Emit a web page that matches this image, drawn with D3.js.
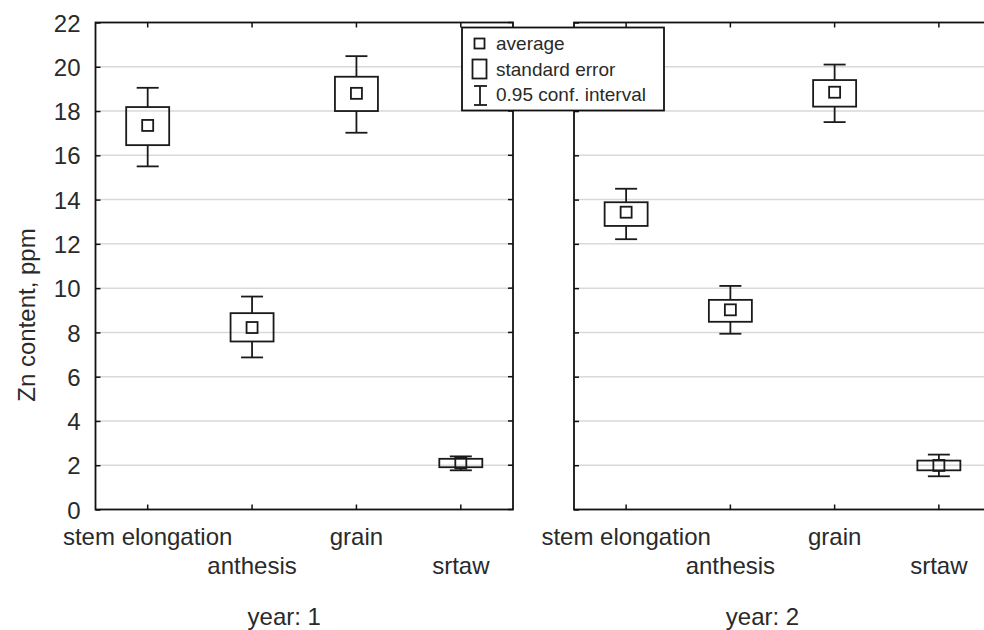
<!DOCTYPE html>
<meta charset="utf-8">
<style>
body { margin: 0; background: #fff; }
svg { font-family: "Liberation Sans", Arial, sans-serif; }
.grid line { stroke: #d9d9d9; stroke-width: 1.5px; }
.frame { fill: none; stroke: #111; stroke-width: 1.8px; }
.tick line { stroke: #111; stroke-width: 1.5px; }
.box rect, .box line { stroke: #1a1a1a; stroke-width: 1.8px; fill: none; }
text { fill: #2a2a2a; }
</style>
<div id="chart"></div>
<script src="https://d3js.org/d3.v7.min.js"></script>
<script>
  var categories = ["stem elongation", "anthesis", "grain", "srtaw"];
  var yearLabels = ["year: 1", "year: 2"];
  var yTicks = [0, 2, 4, 6, 8, 10, 12, 14, 16, 18, 20, 22];

  // year 1
  var mean1   = [17.35, 8.22, 18.8, 2.1];
  var seLow1  = [16.46, 7.59, 18.0, 1.91];
  var seHigh1 = [18.18, 8.87, 19.55, 2.29];
  var ciLow1  = [15.5, 6.87, 17.02, 1.77];
  var ciHigh1 = [19.05, 9.62, 20.48, 2.4];

  // year 2
  var mean2   = [13.43, 9.02, 18.85, 1.99];
  var seLow2  = [12.81, 8.48, 18.2, 1.77];
  var seHigh2 = [13.88, 9.47, 19.4, 2.21];
  var ciLow2  = [12.21, 7.94, 17.5, 1.5];
  var ciHigh2 = [14.49, 10.1, 20.1, 2.48];

  var legendItems = ["average", "standard error", "0.95 conf. interval"];

  var width = 984, height = 630;
  var plotTop = 22.5, plotBottom = 509.5;
  var panels = [
    { x0: 95.5, x1: 513, label: yearLabels[0],
      mean: mean1, seLow: seLow1, seHigh: seHigh1, ciLow: ciLow1, ciHigh: ciHigh1 },
    { x0: 574, x1: 991, label: yearLabels[1],
      mean: mean2, seLow: seLow2, seHigh: seHigh2, ciLow: ciLow2, ciHigh: ciHigh2 }
  ];

  var boxW = 43, meanW = 11, capW = 22;

  var svg = d3.select("#chart").append("svg")
    .attr("width", width)
    .attr("height", height);

  var y = d3.scaleLinear().domain([0, 22]).range([plotBottom, plotTop]);

  panels.forEach(function(p, pi) {
    var x = d3.scalePoint().domain(categories).range([p.x0, p.x1]).padding(0.5);

    // grid
    svg.append("g").attr("class", "grid")
      .selectAll("line")
      .data(yTicks.filter(function(t) { return t > 0 && t < 22; }))
      .enter().append("line")
      .attr("x1", p.x0).attr("x2", p.x1)
      .attr("y1", function(d) { return y(d); })
      .attr("y2", function(d) { return y(d); });

    // left axis ticks (inward)
    var ax = svg.append("g")
      .attr("transform", "translate(" + p.x0 + ",0)")
      .call(d3.axisLeft(y).tickValues(yTicks).tickSize(-5).tickPadding(15));
    ax.select(".domain").remove();
    ax.selectAll(".tick line").attr("stroke", "#111").attr("stroke-width", 1.5);
    ax.selectAll("text")
      .style("font-size", "24px")
      .style("font-family", "'Liberation Sans', Arial, sans-serif")
      .attr("fill", "#2a2a2a")
      .attr("dy", "0.36em");
    if (pi > 0) ax.selectAll("text").remove();

    // right side ticks (inward)
    svg.append("g").attr("class", "tick")
      .selectAll("line")
      .data(yTicks)
      .enter().append("line")
      .attr("x1", p.x1).attr("x2", p.x1 - 5)
      .attr("y1", function(d) { return y(d); })
      .attr("y2", function(d) { return y(d); });

    // top and bottom category ticks
    var ct = svg.append("g").attr("class", "tick");
    ct.selectAll("line.b")
      .data(categories).enter().append("line").attr("class", "b")
      .attr("x1", function(d) { return x(d); }).attr("x2", function(d) { return x(d); })
      .attr("y1", plotBottom).attr("y2", plotBottom - 5);
    ct.selectAll("line.t")
      .data(categories).enter().append("line").attr("class", "t")
      .attr("x1", function(d) { return x(d); }).attr("x2", function(d) { return x(d); })
      .attr("y1", plotTop).attr("y2", plotTop + 5);

    // frame
    svg.append("rect").attr("class", "frame")
      .attr("x", p.x0).attr("y", plotTop)
      .attr("width", p.x1 - p.x0).attr("height", plotBottom - plotTop);

    // category labels, staggered
    svg.append("g")
      .selectAll("text")
      .data(categories)
      .enter().append("text")
      .attr("x", function(d) { return x(d); })
      .attr("y", function(d, i) { return i % 2 === 0 ? 545 : 574; })
      .attr("text-anchor", "middle")
      .style("font-size", "24px")
      .text(function(d) { return d; });

    svg.append("text")
      .attr("x", (p.x0 + p.x1) / 2 - 20)
      .attr("y", 625)
      .attr("text-anchor", "middle")
      .style("font-size", "24px")
      .text(p.label);

    // boxes
    var box = svg.append("g").selectAll("g")
      .data(categories)
      .enter().append("g").attr("class", "box");

    box.append("line")
      .attr("x1", function(d) { return x(d); }).attr("x2", function(d) { return x(d); })
      .attr("y1", function(d, i) { return y(p.ciHigh[i]); })
      .attr("y2", function(d, i) { return y(p.seHigh[i]); });
    box.append("line")
      .attr("x1", function(d) { return x(d); }).attr("x2", function(d) { return x(d); })
      .attr("y1", function(d, i) { return y(p.seLow[i]); })
      .attr("y2", function(d, i) { return y(p.ciLow[i]); });
    box.append("line")
      .attr("x1", function(d) { return x(d) - capW / 2; }).attr("x2", function(d) { return x(d) + capW / 2; })
      .attr("y1", function(d, i) { return y(p.ciHigh[i]); })
      .attr("y2", function(d, i) { return y(p.ciHigh[i]); });
    box.append("line")
      .attr("x1", function(d) { return x(d) - capW / 2; }).attr("x2", function(d) { return x(d) + capW / 2; })
      .attr("y1", function(d, i) { return y(p.ciLow[i]); })
      .attr("y2", function(d, i) { return y(p.ciLow[i]); });
    box.append("rect")
      .attr("x", function(d) { return x(d) - boxW / 2; })
      .attr("width", boxW)
      .attr("y", function(d, i) { return y(p.seHigh[i]); })
      .attr("height", function(d, i) { return y(p.seLow[i]) - y(p.seHigh[i]); });
    box.append("rect")
      .attr("x", function(d) { return x(d) - meanW / 2; })
      .attr("width", meanW)
      .attr("y", function(d, i) { return y(p.mean[i]) - meanW / 2; })
      .attr("height", meanW);
  });

  // y axis title
  svg.append("text")
    .attr("transform", "translate(35,315) rotate(-90)")
    .attr("text-anchor", "middle")
    .style("font-size", "24px")
    .text("Zn content, ppm");

  // legend
  var lg = svg.append("g").attr("class", "box");
  lg.append("rect")
    .attr("x", 462).attr("y", 27.5).attr("width", 202).attr("height", 83)
    .style("fill", "#fff").style("stroke", "#111");
  lg.append("rect").attr("x", 474.5).attr("y", 38.5).attr("width", 10).attr("height", 10);
  lg.append("rect").attr("x", 472.5).attr("y", 59.5).attr("width", 14).attr("height", 19);
  lg.append("line").attr("x1", 480).attr("x2", 480).attr("y1", 86).attr("y2", 105);
  lg.append("line").attr("x1", 474).attr("x2", 487).attr("y1", 86).attr("y2", 86);
  lg.append("line").attr("x1", 474).attr("x2", 487).attr("y1", 105).attr("y2", 105);
  svg.append("g").selectAll("text")
    .data(legendItems)
    .enter().append("text")
    .attr("x", 496)
    .attr("y", function(d, i) { return 50 + i * 25.5; })
    .style("font-size", "19px")
    .text(function(d) { return d; });
</script>
